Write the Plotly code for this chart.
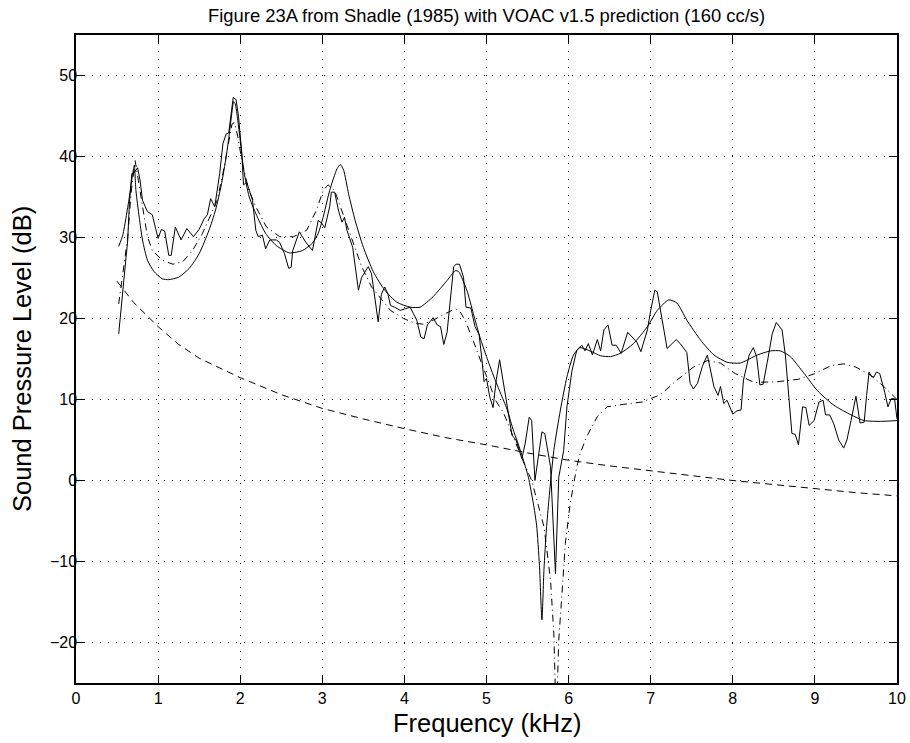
import plotly.graph_objects as go

# ---------------- data ----------------
# Measured spectrum, Shadle (1985) Fig. 23A (jagged solid line)
meas_f = [0.52, 0.57, 0.63, 0.65, 0.68, 0.70, 0.75, 0.78, 0.81, 0.87, 0.93, 0.97, 1.00, 1.04,
          1.08, 1.13, 1.16, 1.21, 1.28, 1.35, 1.43, 1.50, 1.56, 1.60, 1.64, 1.69, 1.75, 1.79,
          1.83, 1.86, 1.89, 1.915, 1.95, 1.98, 2.02, 2.04, 2.08, 2.15, 2.19, 2.22, 2.27, 2.31,
          2.36, 2.44, 2.48, 2.54, 2.59, 2.62, 2.64, 2.72, 2.80, 2.88, 2.95, 2.99, 3.03, 3.09,
          3.11, 3.15, 3.20, 3.24, 3.27, 3.30, 3.37, 3.44, 3.48, 3.56, 3.60, 3.63, 3.68, 3.72,
          3.76, 3.80, 3.83, 3.88, 3.95, 4.01, 4.07, 4.11, 4.15, 4.20, 4.24, 4.28, 4.35, 4.40,
          4.44, 4.48, 4.52, 4.60, 4.63, 4.67, 4.72, 4.75, 4.81, 4.86, 4.91, 4.95, 4.97, 5.00,
          5.04, 5.08, 5.12, 5.16, 5.23, 5.28, 5.31, 5.36, 5.43, 5.47, 5.52, 5.55, 5.59, 5.675,
          5.71, 5.78, 5.84, 5.88, 5.94, 5.98, 6.04, 6.10, 6.16, 6.20, 6.24, 6.29, 6.35, 6.39,
          6.43, 6.48, 6.53, 6.58, 6.64, 6.72, 6.78, 6.83, 6.88, 6.96, 7.00, 7.05, 7.08, 7.14,
          7.20, 7.31, 7.36, 7.44, 7.48, 7.52, 7.57, 7.63, 7.69, 7.77, 7.82, 7.85, 7.89, 7.93,
          7.97, 8.00, 8.05, 8.10, 8.13, 8.20, 8.25, 8.29, 8.33, 8.37, 8.42, 8.48, 8.53, 8.60,
          8.64, 8.68, 8.72, 8.76, 8.80, 8.85, 8.89, 8.93, 8.99, 9.05, 9.10, 9.13, 9.18, 9.23,
          9.29, 9.35, 9.39, 9.44, 9.50, 9.55, 9.60, 9.63, 9.66, 9.69, 9.72, 9.75, 9.79, 9.85,
          9.89, 9.93, 9.97, 10.0]
meas_db = [18.1, 23.5, 29.7, 34.2, 37.9, 37.9, 38.6, 37.1, 34.6, 33.2, 32.8, 31.1, 29.9, 31.0,
           30.8, 27.8, 27.8, 31.3, 29.7, 31.1, 30.1, 31.0, 32.3, 32.8, 34.8, 33.8, 37.9, 41.6,
           42.8, 42.9, 45.1, 47.3, 47.0, 44.9, 40.4, 36.5, 36.8, 34.6, 30.9, 30.1, 30.3, 28.6,
           29.7, 29.7, 29.4, 28.0, 26.2, 26.3, 28.4, 30.7, 29.4, 28.4, 32.1, 31.8, 31.2, 33.8,
           35.6, 35.6, 33.2, 31.9, 32.5, 30.9, 28.8, 23.5, 25.1, 26.4, 25.5, 23.3, 19.6, 23.0,
           23.9, 23.0, 21.6, 21.4, 21.0, 21.2, 21.4, 20.6, 19.8, 17.7, 17.5, 19.2, 20.1, 19.2,
           19.0, 16.8, 18.3, 26.4, 26.7, 26.7, 25.1, 21.4, 21.3, 19.0, 18.0, 14.4, 12.2, 12.6,
           10.3, 9.0, 12.5, 14.9, 10.5, 7.5, 5.6, 5.0, 2.7, 4.5, 7.8, 7.4, 0.0, 6.0,
           5.8, 1.7, -11.5, 0.4, 3.7, 9.1, 13.5, 16.1, 16.7, 16.0, 16.9, 15.5, 17.4, 16.0,
           18.6, 19.2, 16.7, 16.7, 15.7, 18.3, 17.6, 17.1, 15.9, 18.6, 21.0, 23.5, 23.3, 19.8,
           16.3, 17.4, 16.9, 15.8, 12.0, 11.3, 12.0, 14.1, 15.5, 11.6, 10.5, 11.6, 9.5, 9.9,
           9.0, 8.2, 8.6, 8.7, 12.4, 15.5, 16.4, 15.3, 11.8, 11.9, 14.6, 18.1, 19.5, 18.6,
           15.5, 10.3, 5.8, 5.7, 4.4, 9.1, 9.0, 6.8, 7.4, 9.7, 9.9, 8.1, 8.1, 7.0,
           5.0, 4.0, 5.0, 7.4, 10.4, 7.1, 7.2, 10.5, 13.4, 12.8, 12.8, 13.4, 13.2, 10.9,
           9.1, 10.1, 10.1, 7.6]

# VOAC v1.5 prediction (smooth solid line)
voac_f = [0.52, 0.57, 0.61, 0.65, 0.69, 0.71, 0.73, 0.77, 0.81, 0.87, 0.95, 1.05, 1.13, 1.25,
          1.38, 1.50, 1.62, 1.70, 1.77, 1.83, 1.87, 1.90, 1.92, 1.94, 1.97, 2.00, 2.04, 2.11,
          2.21, 2.31, 2.44, 2.60, 2.76, 2.88, 2.95, 3.01, 3.09, 3.18, 3.22, 3.26, 3.32, 3.40,
          3.50, 3.62, 3.76, 3.91, 4.07, 4.19, 4.35, 4.52, 4.62, 4.66, 4.76, 4.84, 4.92, 5.00,
          5.09, 5.17, 5.25, 5.33, 5.37, 5.45, 5.51, 5.57, 5.61, 5.645, 5.675, 5.70, 5.73, 5.76,
          5.82, 5.90, 5.98, 6.06, 6.14, 6.26, 6.39, 6.51, 6.63, 6.79, 6.96, 7.08, 7.22, 7.32,
          7.44, 7.61, 7.77, 7.93, 8.09, 8.30, 8.46, 8.58, 8.70, 8.87, 9.03, 9.23, 9.44, 9.60,
          9.80, 10.0]
voac_db = [28.9, 30.3, 32.5, 35.0, 37.9, 38.9, 35.8, 32.5, 29.7, 27.2, 25.8, 24.9, 24.8, 25.1,
           26.2, 28.0, 30.9, 33.4, 36.5, 40.0, 43.0, 45.5, 46.8, 46.5, 44.5, 42.0, 38.5, 35.0,
           32.5, 30.5, 29.0, 28.1, 28.4, 29.3, 30.5, 32.5, 35.8, 38.5, 39.0, 38.3, 35.4, 32.1,
           28.8, 25.8, 23.5, 22.0, 21.4, 21.4, 22.7, 24.7, 25.9, 25.8, 23.5, 20.6, 17.7, 15.3,
           12.8, 10.8, 8.8, 6.1, 5.0, 2.5, 0.4, -2.8, -5.5, -10.5, -17.2, -11.0, -6.0, -2.4,
           3.7, 8.7, 12.8, 15.5, 16.4, 16.0, 15.4, 15.3, 15.7, 16.9, 19.0, 21.0, 22.3, 21.9,
           19.8, 17.3, 15.5, 14.6, 14.5, 15.5, 16.0, 16.0, 15.3, 13.2, 11.1, 9.3, 8.1, 7.4,
           7.3, 7.4]

# Second prediction (dash-dot line)
pred2_f = [0.52, 0.58, 0.63, 0.67, 0.72, 0.76, 0.81, 0.87, 0.93, 1.05, 1.18, 1.30, 1.42, 1.54,
           1.62, 1.72, 1.79, 1.85, 1.90, 1.93, 1.97, 2.02, 2.10, 2.19, 2.32, 2.48, 2.65, 2.81,
           2.93, 3.01, 3.07, 3.15, 3.22, 3.30, 3.40, 3.48, 3.60, 3.70, 3.83, 3.99, 4.13, 4.23,
           4.35, 4.50, 4.62, 4.68, 4.74, 4.84, 4.96, 5.04, 5.11, 5.21, 5.36, 5.45, 5.55, 5.60,
           5.65, 5.70, 5.78, 5.82, 5.85, 5.88, 5.92, 5.96, 6.02, 6.10, 6.14, 6.22, 6.35, 6.47,
           6.67, 6.90, 7.12, 7.32, 7.52, 7.69, 7.85, 8.03, 8.26, 8.55, 8.80, 9.00, 9.20, 9.35,
           9.50, 9.68, 9.84, 10.0]
pred2_db = [21.8, 26.0, 30.0, 35.4, 39.5, 37.0, 33.8, 30.1, 28.4, 27.2, 26.7, 27.0, 28.4, 30.5,
            32.3, 34.6, 37.9, 41.5, 44.0, 44.2, 42.5, 39.5, 36.0, 33.8, 31.3, 30.1, 30.1, 30.9,
            33.4, 35.8, 36.5, 35.8, 33.8, 31.7, 28.8, 26.4, 23.9, 22.7, 21.0, 20.0, 19.4, 19.3,
            19.8, 20.6, 21.2, 20.8, 19.8, 17.2, 14.0, 12.0, 9.9, 8.3, 4.5, 2.3, 0.0, -1.8,
            -3.8, -5.7, -12.3, -18.9, -30.0, -19.7, -13.9, -7.8, -2.8, 1.7, 3.3, 5.4, 7.9, 9.1,
            9.4, 9.7, 10.6, 12.4, 14.0, 14.8, 14.5, 13.2, 12.1, 12.2, 12.5, 13.2, 14.2, 14.4,
            14.0, 13.0, 11.6, 10.0]

# Source spectrum (dashed line)
src_f = [0.5, 0.7, 1.0, 1.25, 1.5, 2.0, 2.5, 3.0, 3.5, 4.0, 4.5, 5.0, 5.5, 6.0, 6.5, 7.0,
         7.5, 8.0, 8.5, 9.0, 9.5, 10.0]
src_db = [24.6, 22.0, 19.0, 16.8, 15.1, 12.7, 10.6, 8.9, 7.6, 6.4, 5.3, 4.4, 3.4, 2.5, 1.8, 1.2,
          0.6, 0.0, -0.5, -1.0, -1.5, -1.9]

x_ticks = [0, 1, 2, 3, 4, 5, 6, 7, 8, 9, 10]
y_ticks = [-20, -10, 0, 10, 20, 30, 40, 50]

title_text = "Figure 23A from Shadle (1985) with VOAC v1.5 prediction (160 cc/s)"
x_title = "Frequency (kHz)"
y_title = "Sound Pressure Level (dB)"

# ---------------- figure ----------------
FONT = "Liberation Sans, Arial, Helvetica, sans-serif"
fig = go.Figure()

fig.add_trace(go.Scatter(x=src_f, y=src_db, mode="lines",
                         line=dict(color="black", width=1, dash="7px,5px"),
                         hoverinfo="skip", showlegend=False))
fig.add_trace(go.Scatter(x=pred2_f, y=pred2_db, mode="lines",
                         line=dict(color="black", width=1, dash="7px,4px,1px,4px"),
                         hoverinfo="skip", showlegend=False))
fig.add_trace(go.Scatter(x=voac_f, y=voac_db, mode="lines", line_shape="spline",
                         line=dict(color="black", width=1, smoothing=0.6),
                         hoverinfo="skip", showlegend=False))
fig.add_trace(go.Scatter(x=meas_f, y=meas_db, mode="lines",
                         line=dict(color="black", width=1),
                         hoverinfo="skip", showlegend=False))

axis_common = dict(
    showline=True, linecolor="black", linewidth=1.5, mirror="ticks",
    ticks="inside", ticklen=8, tickwidth=1, tickcolor="black",
    showgrid=True, gridcolor="black", gridwidth=1, griddash="1px,7px",
    zeroline=False, automargin=False,
    tickfont=dict(family=FONT, size=16, color="black"),
)

fig.update_xaxes(range=[0, 10], tickvals=x_ticks, ticktext=[str(v) for v in x_ticks],
                 **axis_common)
fig.update_yaxes(range=[-25, 55], tickvals=y_ticks,
                 ticktext=[str(v).replace("-", "\u2212") for v in y_ticks],
                 ticklabelstandoff=-6, **axis_common)

fig.update_layout(
    width=910, height=743,
    margin=dict(l=76, r=13, t=35, b=60, pad=0),
    paper_bgcolor="white", plot_bgcolor="white",
    font=dict(family=FONT, color="black"),
    showlegend=False,
    annotations=[
        dict(text=title_text, x=0.5, y=(683 - 15) / 648, xref="paper", yref="paper",
             xanchor="center", yanchor="middle", showarrow=False,
             font=dict(family=FONT, size=18.4, color="black")),
        dict(text=x_title, x=0.5, y=(683 - 723) / 648, xref="paper", yref="paper",
             xanchor="center", yanchor="middle", showarrow=False,
             font=dict(family=FONT, size=25.5, color="black")),
        dict(text=y_title, x=(22 - 76) / 821, y=0.5, xref="paper", yref="paper",
             xanchor="center", yanchor="middle", textangle=-90, showarrow=False,
             font=dict(family=FONT, size=25.5, color="black")),
    ],
)

fig.write_html(
    "out.html",
    config={"displayModeBar": False},
    post_script="document.body.style.margin='0';document.body.style.padding='0';"
                "document.body.style.overflow='hidden';",
)
